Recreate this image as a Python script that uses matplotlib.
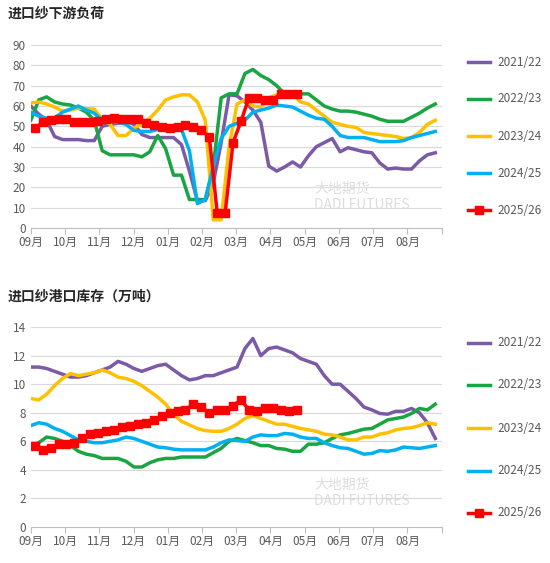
import matplotlib
matplotlib.use("Agg")
import matplotlib.pyplot as plt
import numpy as np

plt.rcParams['font.family'] = ['Noto Sans CJK SC', 'DejaVu Sans']

months = ["09月","10月","11月","12月","01月","02月","03月","04月","05月","06月","07月","08月"]
series_names = ["2021/22","2022/23","2023/24","2024/25","2025/26"]
colors = ["#7B5AA6","#1AA543","#FFC000","#00B0F0","#FF0000"]

load_2122 = [60,56,53,45,43.5,43.5,43.5,43,43,50,51,51.5,52.5,51,46,44.5,44.5,44.5,44.5,41,28,13.5,13.5,22,42,65.5,65,62,58,52,30.5,28,30,32.5,30,35.5,40,42,44,37.5,39.5,38.5,37.5,37,32,29,29.5,29,29,33,36,37]
load_2223 = [53,63,64.5,62,61,60.5,59,57,53,38,36,36,36,36,35,37.5,45.5,39,26,26,14,14,14,30,64,66,66,76,78,75,73,70,66,66,66,66,63,60,58.5,57.5,57.5,57,56,55,53.5,52.5,52.5,52.5,54.5,56.5,59,61]
load_2324 = [61.5,62,61,59.5,57.5,58,59,58.7,58.5,53.5,51,45.5,45.5,49,51.5,54,58,63,64.5,65.5,65.5,62,53,4,4,40,61,63,60,59.5,64,65.5,66,66,62,61,58,55,52,51,50,49.5,47,46.5,46,45.5,45,44,44.5,47,51,53]
load_2425 = [57,55,54,54,57,58.5,60,58,56.5,53,52.5,52,51,48,47.5,47.5,48.5,49,49,48.5,38,12,14,30,44,50,51.5,53,57,58,59,60.5,60,59.5,57.5,55.5,54,53.5,50,45.5,44.5,44.5,44.5,43.5,42.5,42.5,42.5,43,44.5,45.5,46.5,47.5]
load_2526 = [49,52,53,53.5,53.5,52,52,52,52.5,53.5,54,53.5,53.5,53.5,51.5,50.5,49.5,49,49.5,50.5,49.5,48,45,7.5,7.5,42,52.5,64,64,63,63,66,66,66]

inv_2122 = [11.2,11.2,11.1,10.9,10.7,10.5,10.5,10.6,10.8,11.0,11.2,11.6,11.4,11.1,10.9,11.1,11.3,11.4,11.0,10.6,10.3,10.4,10.6,10.6,10.8,11.0,11.2,12.5,13.2,12.0,12.5,12.6,12.4,12.2,11.8,11.6,11.4,10.6,10.0,10.0,9.5,9.0,8.4,8.2,7.95,7.9,8.1,8.1,8.3,8.0,7.3,6.2]
inv_2223 = [5.6,5.9,6.3,6.2,6.0,5.7,5.3,5.1,5.0,4.8,4.8,4.8,4.6,4.2,4.2,4.5,4.7,4.8,4.8,4.9,4.9,4.9,4.9,5.2,5.5,6.0,6.2,6.05,5.9,5.7,5.7,5.5,5.45,5.3,5.3,5.8,5.8,5.9,6.2,6.45,6.55,6.7,6.85,6.9,7.2,7.5,7.6,7.7,7.95,8.3,8.2,8.6]
inv_2324 = [9.0,8.9,9.3,9.9,10.4,10.75,10.6,10.7,10.8,11.0,10.8,10.5,10.4,10.2,9.9,9.5,9.1,8.6,7.9,7.4,7.15,6.9,6.75,6.7,6.7,6.9,7.2,7.6,7.8,7.6,7.4,7.2,7.2,7.05,6.9,6.8,6.7,6.5,6.45,6.3,6.1,6.1,6.3,6.3,6.5,6.6,6.8,6.9,6.95,7.1,7.3,7.2]
inv_2425 = [7.1,7.3,7.2,6.9,6.7,6.4,6.1,6.0,5.9,5.9,6.0,6.1,6.3,6.2,6.0,5.8,5.6,5.55,5.45,5.4,5.4,5.4,5.4,5.6,5.9,6.1,6.05,6.0,6.3,6.45,6.4,6.4,6.55,6.5,6.3,6.2,6.2,5.9,5.7,5.55,5.5,5.3,5.1,5.15,5.35,5.3,5.4,5.6,5.55,5.5,5.6,5.7]
inv_2526 = [5.7,5.4,5.5,5.8,5.8,5.85,6.2,6.5,6.6,6.7,6.8,7.0,7.1,7.2,7.3,7.5,7.8,8.0,8.1,8.2,8.6,8.4,8.0,8.2,8.2,8.5,8.9,8.2,8.1,8.3,8.3,8.2,8.1,8.2]

titles = ["进口纱下游负荷", "进口纱港口库存（万吨）"]
XMAX = 51.8

fig = plt.figure(figsize=(5.5, 5.63), dpi=100)
axes = [fig.add_axes([0.056, 0.595, 0.747, 0.325]), fig.add_axes([0.056, 0.064, 0.747, 0.355])]
datasets = [[load_2122, load_2223, load_2324, load_2425, load_2526],
            [inv_2122, inv_2223, inv_2324, inv_2425, inv_2526]]
ylims = [(0, 90, 10), (0, 14, 2)]
leg_y = [[62, 99, 136, 173, 210], [343, 385, 428, 471, 513]]
title_y = [14, 297]

for ax, data, (y0, y1, st), ly, ty, title in zip(axes, datasets, ylims, leg_y, title_y, titles):
    for i, (vals, c) in enumerate(zip(data, colors)):
        if i == 4:
            x = np.arange(len(vals)) + 0.5
            ax.plot(x, vals, color=c, lw=2.5, marker='s', ms=6, zorder=5)
        else:
            x = np.arange(len(vals))
            ax.plot(x, vals, color=c, lw=2.5)
    ax.set_xlim(0, XMAX)
    ax.set_ylim(y0, y1)
    ax.set_yticks(np.arange(y0, y1 + st / 2, st))
    ax.grid(axis='y', color='#D9D9D9', lw=0.8)
    ax.set_axisbelow(True)
    ticks = [i * XMAX / 12 for i in range(12)]
    ax.set_xticks(ticks + [XMAX])
    ax.set_xticklabels(months + [""])
    ax.tick_params(axis='x', length=4, color='#BFBFBF', labelsize=8.5, labelcolor='#595959', pad=2)
    ax.tick_params(axis='y', length=0, labelsize=8.5, labelcolor='#595959')
    for s in ['top', 'right', 'left']:
        ax.spines[s].set_visible(False)
    ax.spines['bottom'].set_color('#BFBFBF')
    ax.text(0.69, 0.17, "大地期货\nDADI FUTURES", transform=ax.transAxes, fontsize=10,
            color='#DDDDDD', ha='left', va='center', zorder=0)
    fig.text(8 / 550, 1 - ty / 563, title, fontsize=10, fontweight='bold', color='#262626', va='center')
    for yy, c, n in zip(ly, colors, series_names):
        yf = 1 - yy / 563
        fig.add_artist(plt.Line2D([468 / 550, 479 / 550, 490 / 550], [yf, yf, yf], color=c, lw=2.5,
                                  marker='s' if n == "2025/26" else None, ms=6,
                                  markevery=[1], transform=fig.transFigure))
        fig.text(497 / 550, yf, n, fontsize=8.5, color='#595959', va='center')

fig.savefig("out.png", dpi=100)
